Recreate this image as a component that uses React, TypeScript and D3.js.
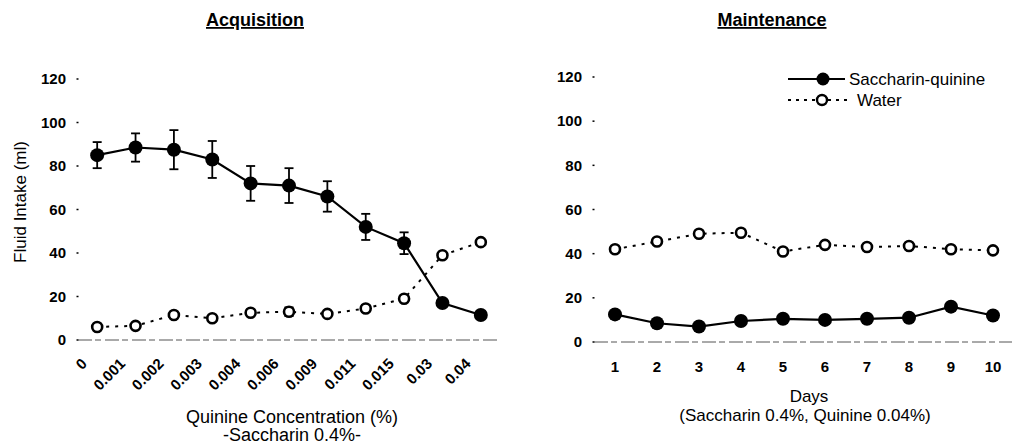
import React from 'react'
import * as d3 from 'd3'

// acquisition panel
const concentrations = ['0', '0.001', '0.002', '0.003', '0.004', '0.006', '0.009', '0.011', '0.015', '0.03', '0.04']
const acqSaccharin = [85, 88.5, 87.5, 83, 72, 71, 66, 52, 44.5, 17, 11.5]
const acqSaccharinErr = [6, 6.5, 9, 8.5, 8, 8, 7, 6, 5, 0, 0]
const acqWater = [6, 6.5, 11.5, 10, 12.5, 13, 12, 14.5, 19, 39, 45]
const acqWaterErr = [0, 0, 1, 1, 1, 2, 0, 1.5, 0, 0, 1]

// maintenance panel
const days = ['1', '2', '3', '4', '5', '6', '7', '8', '9', '10']
const mntSaccharin = [12.5, 8.5, 7, 9.5, 10.5, 10, 10.5, 11, 16, 12]
const mntWater = [42, 45.5, 49, 49.5, 41, 44, 43, 43.5, 42, 41.5]

const yTicks = [0, 20, 40, 60, 80, 100, 120]

const FONT = '"Liberation Sans", Arial, sans-serif'

type PanelProps = {
    cats: string[]
    sacc: number[]
    water: number[]
    saccErr?: number[]
    waterErr?: number[]
    x0: number
    x1: number
    yTop: number
    yBottom: number
    rotateLabels: boolean
}

function Panel(props: PanelProps) {
    const { cats, sacc, water, saccErr, waterErr, x0, x1, yTop, yBottom, rotateLabels } = props
    const x = d3.scalePoint<string>().domain(cats).range([x0, x1]).padding(0.5)
    const y = d3.scaleLinear().domain([0, 120]).range([yBottom, yTop])

    const line = d3.line<number>()
        .x((d, i) => x(cats[i]) as number)
        .y(d => y(d))

    const errBars = (vals: number[], errs?: number[]) => errs ? vals.map((v, i) => {
        if (!errs[i]) return null
        const cx = x(cats[i]) as number
        return (
            <g key={'e' + i} stroke="#000" strokeWidth={1.8}>
                <line x1={cx} x2={cx} y1={y(v - errs[i])} y2={y(v + errs[i])} />
                <line x1={cx - 4.5} x2={cx + 4.5} y1={y(v + errs[i])} y2={y(v + errs[i])} />
                <line x1={cx - 4.5} x2={cx + 4.5} y1={y(v - errs[i])} y2={y(v - errs[i])} />
            </g>
        )
    }) : null

    return (
        <g fontFamily={FONT} fill="#000">
            {/* y ticks */}
            {yTicks.map(t => (
                <g key={t}>
                    <text x={x0 - 12} y={y(t)} dy="0.35em" textAnchor="end" fontSize={15} fontWeight="bold">{t}</text>
                    <line x1={x0 - 1.5} x2={x0 + 0.5} y1={y(t)} y2={y(t)} stroke="#000" strokeWidth={1.5} />
                </g>
            ))}
            {/* x axis */}
            <line x1={x0} x2={x1} y1={y(0)} y2={y(0)} stroke="#555" strokeWidth={1} strokeDasharray="14,3,6,4" />
            {cats.map(c => {
                const cx = x(c) as number
                return rotateLabels ? (
                    <text key={c} transform={`translate(${cx - 13},${y(0) + 21}) rotate(-45)`} textAnchor="end"
                        dy="0.35em" fontSize={15} fontWeight="bold">{c}</text>
                ) : (
                    <text key={c} x={cx} y={y(0) + 30} textAnchor="middle" fontSize={15} fontWeight="bold">{c}</text>
                )
            })}
            {/* error bars */}
            {errBars(sacc, saccErr)}
            {errBars(water, waterErr)}
            {/* series */}
            <path d={line(water) as string} fill="none" stroke="#000" strokeWidth={2} strokeDasharray="3,6" />
            <path d={line(sacc) as string} fill="none" stroke="#000" strokeWidth={2.2} />
            {water.map((v, i) => (
                <circle key={'w' + i} cx={x(cats[i]) as number} cy={y(v)} r={5} fill="#fff" stroke="#000" strokeWidth={2.6} />
            ))}
            {sacc.map((v, i) => (
                <circle key={'s' + i} cx={x(cats[i]) as number} cy={y(v)} r={7} fill="#000" />
            ))}
        </g>
    )
}

export default function App() {
    const W = 1012, H = 448
    return (
        <svg width={W} height={H} style={{ position: 'absolute', left: 0, top: 0, background: '#fff' }}>
            <rect width={W} height={H} fill="#fff" />
            <g fontFamily={FONT} fill="#000">
                <text x={255} y={26} textAnchor="middle" fontSize={18} fontWeight="bold" textDecoration="underline">Acquisition</text>
                <text x={772} y={26} textAnchor="middle" fontSize={18} fontWeight="bold" textDecoration="underline">Maintenance</text>
                <text transform="translate(20,202) rotate(-90)" textAnchor="middle" dy="0.35em" fontSize={17} fill="#000">Fluid Intake (ml)</text>
                <text x={292} y={423} textAnchor="middle" fontSize={18}>Quinine Concentration (%)</text>
                <text x={292} y={441} textAnchor="middle" fontSize={18}>-Saccharin 0.4%-</text>
                <text x={809} y={402} textAnchor="middle" fontSize={17}>Days</text>
                <text x={805} y={421} textAnchor="middle" fontSize={17}>(Saccharin 0.4%, Quinine 0.04%)</text>
            </g>
            <Panel cats={concentrations} sacc={acqSaccharin} water={acqWater} saccErr={acqSaccharinErr} waterErr={acqWaterErr}
                x0={78} x1={500} yTop={79} yBottom={340} rotateLabels={true} />
            <Panel cats={days} sacc={mntSaccharin} water={mntWater}
                x0={594} x1={1014} yTop={77} yBottom={342} rotateLabels={false} />
            {/* legend */}
            <g fontFamily={FONT} fontSize={17} fill="#000">
                <line x1={788} x2={845} y1={79} y2={79} stroke="#000" strokeWidth={2} />
                <circle cx={823} cy={79} r={6.5} fill="#000" />
                <text x={849} y={79} dy="0.35em">Saccharin-quinine</text>
                <line x1={788} x2={852} y1={100} y2={100} stroke="#000" strokeWidth={2} strokeDasharray="3,5" />
                <circle cx={822} cy={100} r={5} fill="#fff" stroke="#000" strokeWidth={2.4} />
                <text x={857} y={100} dy="0.35em">Water</text>
            </g>
        </svg>
    )
}
